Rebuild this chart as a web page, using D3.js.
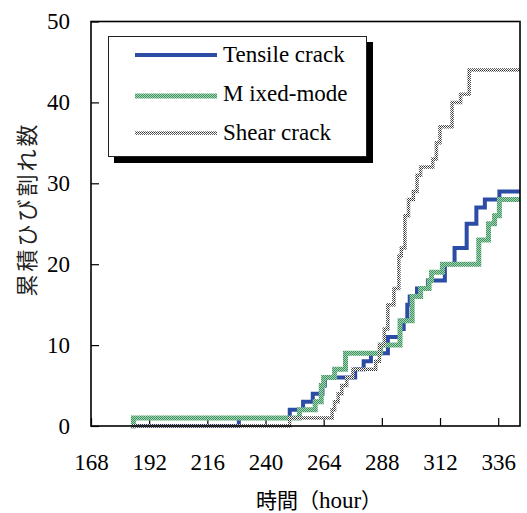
<!DOCTYPE html>
<html><head><meta charset="utf-8">
<script src="https://cdn.jsdelivr.net/npm/d3@7"></script>
<style>
html,body{margin:0;padding:0;background:#fff;}
svg{display:block;}
.serif{font-family:"Liberation Serif","Tinos","Times New Roman","DejaVu Serif",serif;}
.cjk{font-family:"Noto Sans CJK JP","Noto Sans CJK SC",sans-serif;}
</style>
</head><body>
<script>
// ---- data ----
const xTicks = [168, 192, 216, 240, 264, 288, 312, 336];
const yTicks = [0, 10, 20, 30, 40, 50];
const seriesNames = ["Tensile crack", "M ixed-mode", "Shear crack"];

const tensileHours  = [185, 229, 250, 255.5, 259.5, 263.5, 264.5, 277, 280.5, 283.5, 290.5, 295.5, 297, 298.5, 299.5, 302.5, 307, 314, 318, 323, 327, 330.5, 336.5, 345];
const tensileCounts = [0,   1,   2,   3,     4,     5,     6,     7,   8,     9,     11,    12,    13,  15,    16,    17,    18,  20,  22,  25,  27,  28,    29,    29];

const mixedHours  = [184.5, 185.5, 254, 260.5, 263, 264, 268.5, 273, 287.5, 295.5, 300.5, 304, 307.5, 308.5, 313, 328, 332, 334.5, 336.5, 345];
const mixedCounts = [0,     1,     2,   3,     5,   6,   7,     9,   10,    13,    16,    17,  18,    19,    20,  23,  25,  26,    28,    28];

const shearHours  = [184.5, 250, 267.5, 268.5, 270, 271.5, 273.5, 276, 285.5, 287, 289, 290.5, 293, 295, 296, 297.5, 299, 301, 302.5, 304, 309, 310.5, 312, 317, 320.5, 324, 345];
const shearCounts = [0,     1,   2,     3,     4,   5,     6,     7,   8,     10,  12,  15,    17,  21,  22,  26,    28,  29,  31,    32,  33,  35,    37,  40,  41,    44,  44];

// ---- layout ----
const W = 527, H = 513;
const svg = d3.select("body").append("svg").attr("width", W).attr("height", H);

const defs = svg.append("defs");
const pg = defs.append("pattern").attr("id", "greenPat").attr("patternUnits", "userSpaceOnUse")
  .attr("width", 2).attr("height", 2);
pg.append("rect").attr("width", 2).attr("height", 2).attr("fill", "#3c9360");
pg.append("rect").attr("x", 1).attr("y", 0).attr("width", 1).attr("height", 1).attr("fill", "#a6d4b4");
pg.append("rect").attr("x", 0).attr("y", 1).attr("width", 1).attr("height", 1).attr("fill", "#a6d4b4");

const pgr = defs.append("pattern").attr("id", "grayPat").attr("patternUnits", "userSpaceOnUse")
  .attr("width", 2).attr("height", 2);
pgr.append("rect").attr("width", 2).attr("height", 2).attr("fill", "#ffffff");
pgr.append("rect").attr("x", 0).attr("y", 0).attr("width", 1).attr("height", 1).attr("fill", "#2e2e2e");
pgr.append("rect").attr("x", 1).attr("y", 1).attr("width", 1).attr("height", 1).attr("fill", "#5a5a5a");

const x = d3.scaleLinear().domain([168, 345]).range([91, 520]);
const y = d3.scaleLinear().domain([0, 50]).range([426, 21.5]);

// axes
const xAxis = d3.axisBottom(x).tickValues(xTicks).tickSizeInner(-8).tickSizeOuter(0).tickPadding(28);
const gx = svg.append("g").attr("transform", `translate(0,${y(0)})`).call(xAxis);
gx.attr("font-family", null).attr("font-size", null);
gx.select(".domain").remove();
gx.selectAll("line").attr("stroke", "#000").attr("stroke-width", 1.2);
gx.selectAll("text").attr("class", "serif").style("font-size", "23px").attr("fill", "#000");

const yAxis = d3.axisLeft(y).tickValues(yTicks).tickSizeInner(-8).tickSizeOuter(0).tickPadding(21);
const gy = svg.append("g").attr("transform", `translate(${x(168)},0)`).call(yAxis);
gy.attr("font-family", null).attr("font-size", null);
gy.select(".domain").remove();
gy.selectAll("line").attr("stroke", "#000").attr("stroke-width", 1.2);
gy.selectAll("text").attr("class", "serif").style("font-size", "23px").attr("fill", "#000");

// series lines
const line = d3.line().x(d => x(d[0])).y(d => y(d[1])).curve(d3.curveStepAfter);
const series = [
  {name: seriesNames[0], pts: d3.zip(tensileHours, tensileCounts), stroke: "#2c4ca6", width: 4},
  {name: seriesNames[1], pts: d3.zip(mixedHours, mixedCounts), stroke: "url(#greenPat)", width: 5},
  {name: seriesNames[2], pts: d3.zip(shearHours, shearCounts), stroke: "url(#grayPat)", width: 3.5}
];
series.forEach(s => {
  svg.append("path").attr("d", line(s.pts)).attr("fill", "none")
    .attr("stroke", s.stroke).attr("stroke-width", s.width).attr("stroke-linejoin", "miter");
});

// frame
svg.append("rect").attr("x", x(168)).attr("y", y(50))
  .attr("width", x(345) - x(168)).attr("height", y(0) - y(50))
  .attr("fill", "none").attr("stroke", "#000").attr("stroke-width", 1.6);

// legend
const lg = svg.append("g");
lg.append("rect").attr("x", 114).attr("y", 42).attr("width", 259).attr("height", 121).attr("fill", "#000");
lg.append("rect").attr("x", 108.5).attr("y", 36.5).attr("width", 258).attr("height", 120)
  .attr("fill", "#fff").attr("stroke", "#222").attr("stroke-width", 1);
const legRows = [55, 96, 133];
const legText = [61.5, 101, 140];
series.forEach((s, i) => {
  lg.append("line").attr("x1", 135).attr("x2", 217).attr("y1", legRows[i]).attr("y2", legRows[i])
    .attr("stroke", s.stroke).attr("stroke-width", s.width);
  lg.append("text").attr("x", 223).attr("y", legText[i]).attr("class", "serif")
    .style("font-size", "23px").attr("fill", "#000").text(s.name);
});

// axis titles
const xt = svg.append("text").attr("x", 319).attr("y", 508).attr("text-anchor", "middle")
  .attr("class", "cjk").style("font-size", "21px").attr("fill", "#000");
xt.append("tspan").text("時間（");
xt.append("tspan").attr("class", "serif").style("font-size", "23px").text("hour");
xt.append("tspan").text("）");
svg.append("text").attr("transform", "translate(35,209) rotate(-90)").attr("text-anchor", "middle")
  .attr("class", "cjk").style("font-size", "22px").attr("letter-spacing", 3)
  .attr("fill", "#222").text("累積ひび割れ数");
</script>
</body></html>
